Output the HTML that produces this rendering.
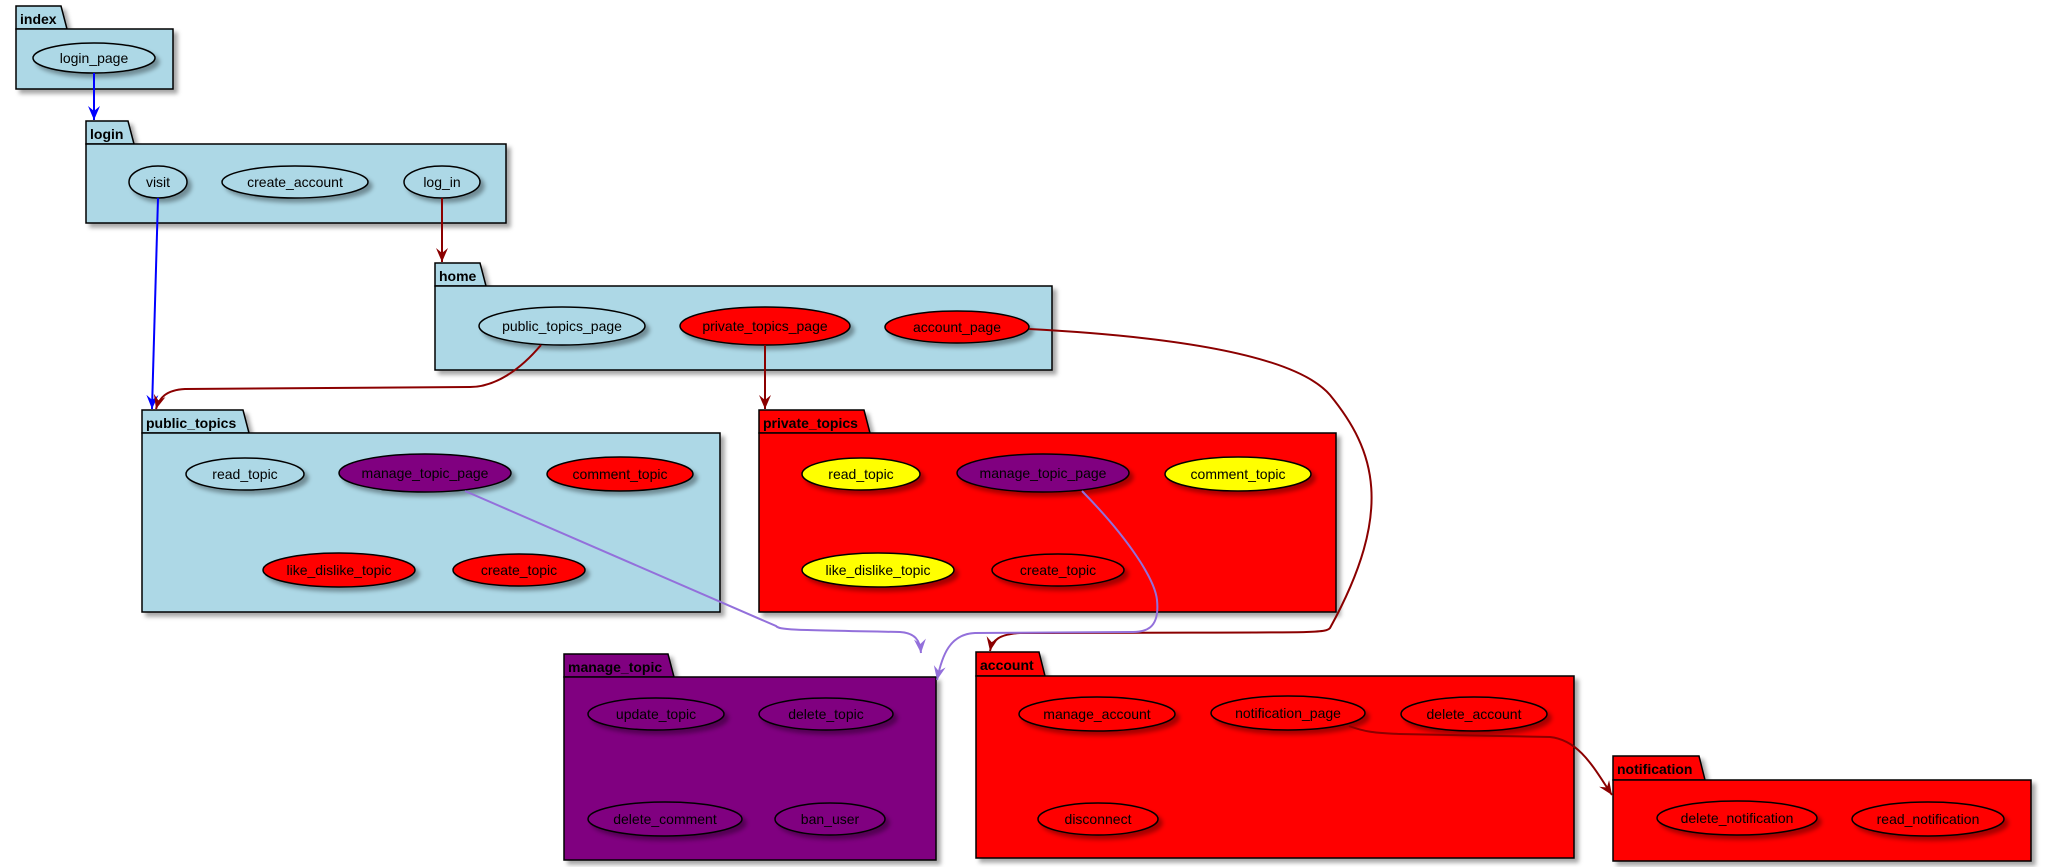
<!DOCTYPE html>
<html><head><meta charset="utf-8"><style>
html,body{margin:0;padding:0;background:#fff;}
svg{display:block;}
text{font-family:"Liberation Sans",sans-serif;font-size:14px;}
.pk{font-weight:bold;}
</style></head><body>
<svg width="2046" height="867" viewBox="0 0 2046 867" xmlns="http://www.w3.org/2000/svg">
<defs>
<filter id="sh" x="-10%" y="-10%" width="130%" height="140%">
<feGaussianBlur in="SourceAlpha" stdDeviation="2"/>
<feOffset dx="4" dy="4" result="b"/>
<feFlood flood-color="#000" flood-opacity="0.35"/>
<feComposite in2="b" operator="in"/>
<feMerge><feMergeNode/><feMergeNode in="SourceGraphic"/></feMerge>
</filter>
<marker id="ab" markerWidth="16" markerHeight="14" refX="14" refY="6" orient="auto" markerUnits="userSpaceOnUse"><path d="M0,0 L14,6 L0,12 L5,6 Z" fill="#0000FF"/></marker>
<marker id="ar" markerWidth="16" markerHeight="14" refX="14" refY="6" orient="auto" markerUnits="userSpaceOnUse"><path d="M0,0 L14,6 L0,12 L5,6 Z" fill="#8B0000"/></marker>
<marker id="ap" markerWidth="16" markerHeight="14" refX="14" refY="6" orient="auto" markerUnits="userSpaceOnUse"><path d="M0,0 L14,6 L0,12 L5,6 Z" fill="#9370DB"/></marker>
</defs>

<g stroke="#000" stroke-width="1.5" filter="url(#sh)">
<path d="M16,6 L61,6 L67,29 L16,29 Z" fill="#ADD8E6"/><rect x="16" y="29" width="157" height="60" fill="#ADD8E6"/>
<path d="M86,121 L128,121 L134,144 L86,144 Z" fill="#ADD8E6"/><rect x="86" y="144" width="420" height="79" fill="#ADD8E6"/>
<path d="M435,263 L480,263 L486,286 L435,286 Z" fill="#ADD8E6"/><rect x="435" y="286" width="617" height="84" fill="#ADD8E6"/>
<path d="M142,410 L243,410 L249,433 L142,433 Z" fill="#ADD8E6"/><rect x="142" y="433" width="578" height="179" fill="#ADD8E6"/>
<path d="M759,410 L864,410 L870,433 L759,433 Z" fill="#FF0000"/><rect x="759" y="433" width="577" height="179" fill="#FF0000"/>
<path d="M564,654 L668,654 L674,677 L564,677 Z" fill="#800080"/><rect x="564" y="677" width="372" height="183" fill="#800080"/>
<path d="M976,652 L1039,652 L1045,676 L976,676 Z" fill="#FF0000"/><rect x="976" y="676" width="598" height="182" fill="#FF0000"/>
<path d="M1613,756 L1699,756 L1705,780 L1613,780 Z" fill="#FF0000"/><rect x="1613" y="780" width="418" height="81" fill="#FF0000"/>
</g>
<g class="pk">
<text x="20" y="24" class="pk">index</text>
<text x="90" y="139" class="pk">login</text>
<text x="439" y="281" class="pk">home</text>
<text x="146" y="428" class="pk">public_topics</text>
<text x="763" y="428" class="pk">private_topics</text>
<text x="568" y="672" class="pk">manage_topic</text>
<text x="980" y="670" class="pk">account</text>
<text x="1617" y="774" class="pk">notification</text>
</g>

<g stroke="#000" stroke-width="1.5" filter="url(#sh)">
<ellipse cx="94" cy="58" rx="61" ry="15" fill="#ADD8E6"/>
<ellipse cx="158" cy="182" rx="29" ry="16" fill="#ADD8E6"/>
<ellipse cx="295" cy="182" rx="73" ry="16" fill="#ADD8E6"/>
<ellipse cx="442" cy="182" rx="38" ry="16" fill="#ADD8E6"/>
<ellipse cx="562" cy="326" rx="83" ry="19" fill="#ADD8E6"/>
<ellipse cx="765" cy="326" rx="85" ry="19" fill="#FF0000"/>
<ellipse cx="957" cy="327" rx="72" ry="16" fill="#FF0000"/>
<ellipse cx="245" cy="474" rx="59" ry="16" fill="#ADD8E6"/>
<ellipse cx="425" cy="473" rx="86" ry="19" fill="#800080"/>
<ellipse cx="620" cy="474" rx="73" ry="17" fill="#FF0000"/>
<ellipse cx="339" cy="570" rx="76" ry="17" fill="#FF0000"/>
<ellipse cx="519" cy="570" rx="66" ry="16" fill="#FF0000"/>
<ellipse cx="861" cy="474" rx="59" ry="16" fill="#FFFF00"/>
<ellipse cx="1043" cy="473" rx="86" ry="19" fill="#800080"/>
<ellipse cx="1238" cy="474" rx="73" ry="17" fill="#FFFF00"/>
<ellipse cx="878" cy="570" rx="76" ry="17" fill="#FFFF00"/>
<ellipse cx="1058" cy="570" rx="66" ry="16" fill="#FF0000"/>
<ellipse cx="656" cy="714" rx="68" ry="16" fill="#800080"/>
<ellipse cx="826" cy="714" rx="67" ry="16" fill="#800080"/>
<ellipse cx="665" cy="819" rx="77" ry="17" fill="#800080"/>
<ellipse cx="830" cy="819" rx="55" ry="16" fill="#800080"/>
<ellipse cx="1097" cy="714" rx="78" ry="17" fill="#FF0000"/>
<ellipse cx="1288" cy="713" rx="77" ry="17" fill="#FF0000"/>
<ellipse cx="1474" cy="714" rx="73" ry="17" fill="#FF0000"/>
<ellipse cx="1098" cy="819" rx="60" ry="16" fill="#FF0000"/>
<ellipse cx="1737" cy="818" rx="80" ry="17" fill="#FF0000"/>
<ellipse cx="1928" cy="819" rx="76" ry="17" fill="#FF0000"/>
</g>
<g text-anchor="middle">
<text x="94" y="63">login_page</text>
<text x="158" y="187">visit</text>
<text x="295" y="187">create_account</text>
<text x="442" y="187">log_in</text>
<text x="562" y="331">public_topics_page</text>
<text x="765" y="331">private_topics_page</text>
<text x="957" y="332">account_page</text>
<text x="245" y="479">read_topic</text>
<text x="425" y="478">manage_topic_page</text>
<text x="620" y="479">comment_topic</text>
<text x="339" y="575">like_dislike_topic</text>
<text x="519" y="575">create_topic</text>
<text x="861" y="479">read_topic</text>
<text x="1043" y="478">manage_topic_page</text>
<text x="1238" y="479">comment_topic</text>
<text x="878" y="575">like_dislike_topic</text>
<text x="1058" y="575">create_topic</text>
<text x="656" y="719">update_topic</text>
<text x="826" y="719">delete_topic</text>
<text x="665" y="824">delete_comment</text>
<text x="830" y="824">ban_user</text>
<text x="1097" y="719">manage_account</text>
<text x="1288" y="718">notification_page</text>
<text x="1474" y="719">delete_account</text>
<text x="1098" y="824">disconnect</text>
<text x="1737" y="823">delete_notification</text>
<text x="1928" y="824">read_notification</text>
</g>

<g fill="none" stroke-width="2">
<path d="M94,73 L94,120" stroke="#0000FF" marker-end="url(#ab)"/>
<path d="M158,198 L152,409" stroke="#0000FF" marker-end="url(#ab)"/>
<path d="M442,198 L442,262" stroke="#8B0000" marker-end="url(#ar)"/>
<path d="M541,345 C520,370 495,387 470,387 L185,389 C166,390 159,398 156,409" stroke="#8B0000" marker-end="url(#ar)"/>
<path d="M765,345 L765,409" stroke="#8B0000" marker-end="url(#ar)"/>
<path d="M1029,329 C1200,338 1300,360 1330,395 C1375,450 1395,510 1330,628 C1325,634 1310,632 1020,633 C1000,634 992,640 990,651" stroke="#8B0000" marker-end="url(#ar)"/>
<path d="M465,491 L776,626 C780,630 790,630 900,632 C915,633 920,640 921,653" stroke="#9370DB" marker-end="url(#ap)"/>
<path d="M1082,491 C1130,540 1155,580 1157,600 C1160,630 1145,632 1130,632 L975,633 C950,634 942,655 937,680" stroke="#9370DB" marker-end="url(#ap)"/>
<path d="M1349,726 C1365,732 1375,733 1400,734 L1550,737 C1580,740 1595,770 1612,795" stroke="#8B0000" marker-end="url(#ar)"/>
</g>
</svg>
</body></html>
